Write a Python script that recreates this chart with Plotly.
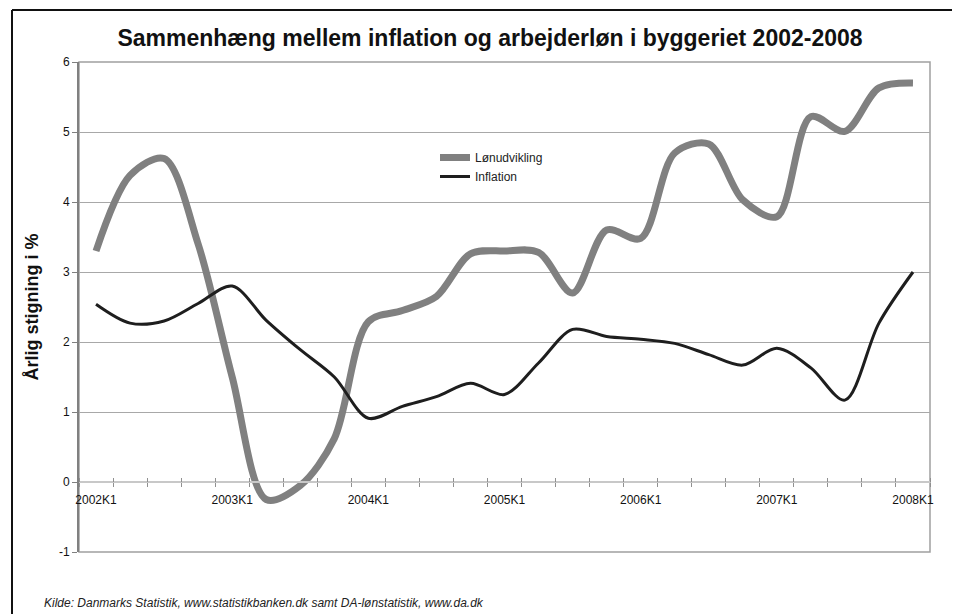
import plotly.graph_objects as go

# ---- data ----
quarters = ["2002K1", "2002K2", "2002K3", "2002K4",
            "2003K1", "2003K2", "2003K3", "2003K4",
            "2004K1", "2004K2", "2004K3", "2004K4",
            "2005K1", "2005K2", "2005K3", "2005K4",
            "2006K1", "2006K2", "2006K3", "2006K4",
            "2007K1", "2007K2", "2007K3", "2007K4",
            "2008K1"]
lonudvikling = [3.30, 4.38, 4.62, 3.40,
                1.50, -0.25, -0.05, 0.62,
                2.29, 2.45, 2.65, 3.26,
                3.30, 3.28, 2.70, 3.60,
                3.48, 4.70, 4.83, 4.03,
                3.79, 5.22, 5.01, 5.63,
                5.70]
inflation = [2.54, 2.27, 2.30, 2.55,
             2.80, 2.31, 1.89, 1.50,
             0.91, 1.08, 1.22, 1.41,
             1.25, 1.70, 2.18, 2.08,
             2.04, 1.98, 1.82, 1.67,
             1.91, 1.63, 1.17, 2.27,
             3.00]
tick_labels = ["2002K1", "2003K1", "2004K1", "2005K1", "2006K1", "2007K1", "2008K1"]
y_ticks = [-1, 0, 1, 2, 3, 4, 5, 6]

FONT = "Liberation Sans, Arial, sans-serif"
x_idx = list(range(len(quarters)))
label_pos = [quarters.index(t) for t in tick_labels]
boundaries = [i - 0.5 for i in range(len(quarters) + 1)]
xr = [-0.5, len(quarters) - 0.5]
ymin, ymax = y_ticks[0], y_ticks[-1]
zero_pos = (0 - ymin) / (ymax - ymin)

# page has an 8px body margin: figure drawn at (8,8)
W, H = 952, 606
ML, MT, PW, PH = 71, 54, 851, 490
MR, MB = W - ML - PW, H - MT - PH

def px(xf):  # figure pixel x -> paper x
    return (xf - ML) / PW

def py(yf):  # figure pixel y -> paper y
    return (MT + PH - yf) / PH

fig = go.Figure()
fig.add_trace(go.Scatter(
    x=x_idx, y=lonudvikling, name="Lønudvikling", mode="lines",
    line=dict(color="#808080", width=7, shape="spline", smoothing=0.9),
    text=quarters, hovertemplate="%{text}: %{y}<extra></extra>"))
fig.add_trace(go.Scatter(
    x=x_idx, y=inflation, name="Inflation", mode="lines", xaxis="x2",
    line=dict(color="#1e1e1e", width=3, shape="spline", smoothing=0.9),
    text=quarters, hovertemplate="%{text}: %{y}<extra></extra>"))

fig.update_layout(
    width=W, height=H,
    margin=dict(l=ML, r=MR, t=MT, b=MB),
    paper_bgcolor="white", plot_bgcolor="white",
    font=dict(family=FONT, color="#222222", size=12),
    title=dict(text="<b>Sammenhæng mellem inflation og arbejderløn i byggeriet 2002-2008</b>",
               x=482 / W, xanchor="center", xref="container",
               y=1 - 30 / H, yanchor="middle", yref="container",
               font=dict(size=23, color="#111111", family=FONT)),
    xaxis=dict(range=xr, anchor="free", position=zero_pos,
               tickmode="array", tickvals=label_pos, ticktext=tick_labels,
               ticks="", showgrid=False, zeroline=False, ticklabelstandoff=7,
               showline=True, linecolor="#c8c8c8", linewidth=2,
               tickfont=dict(size=12, color="#111111"),
               minor=dict(tickmode="array", tickvals=boundaries, ticks="outside",
                          ticklen=4, tickcolor="#909090", tickwidth=1, showgrid=False)),
    xaxis2=dict(range=xr, anchor="free", position=zero_pos, overlaying="x",
                showticklabels=False, showgrid=False, zeroline=False, showline=False,
                tickmode="array", tickvals=label_pos, ticks="",
                minor=dict(tickmode="array", tickvals=boundaries, ticks="inside",
                           ticklen=4, tickcolor="#909090", tickwidth=1, showgrid=False)),
    yaxis=dict(range=[ymin, ymax], tickmode="array", tickvals=y_ticks,
               ticktext=[str(v) for v in y_ticks],
               showgrid=True, gridcolor="#a8a8a8", gridwidth=1, zeroline=False,
               showline=True, linecolor="#808080", linewidth=2,
               ticks="outside", ticklen=5, tickcolor="#808080",
               tickfont=dict(size=12, color="#111111"),
               title=dict(text="<b>Årlig stigning i %</b>", font=dict(size=18, color="#111111"),
                          standoff=16)),
    legend=dict(x=px(427), y=py(135), xanchor="left", yanchor="top",
                bgcolor="rgba(0,0,0,0)", font=dict(size=12, color="#222222"),
                tracegroupgap=0, itemwidth=30),
    showlegend=True,
    shapes=[
        dict(type="rect", xref="paper", yref="paper", x0=0, x1=1, y0=0, y1=1,
             line=dict(color="#a0a0a0", width=1.5), layer="below"),
        dict(type="line", xref="paper", yref="paper",
             x0=px(4), x1=px(W + 20), y0=py(2), y1=py(2),
             line=dict(color="#111111", width=2)),
        dict(type="line", xref="paper", yref="paper",
             x0=px(4), x1=px(4), y0=py(2), y1=py(H + 20),
             line=dict(color="#111111", width=2)),
    ],
    annotations=[
        dict(text="<i>Kilde: Danmarks Statistik, www.statistikbanken.dk samt DA-lønstatistik, www.da.dk</i>",
             xref="paper", yref="paper", x=px(34), y=py(595),
             xanchor="left", yanchor="middle", showarrow=False,
             font=dict(size=12, color="#222222", family=FONT)),
    ],
)

fig.write_html("out.html")
